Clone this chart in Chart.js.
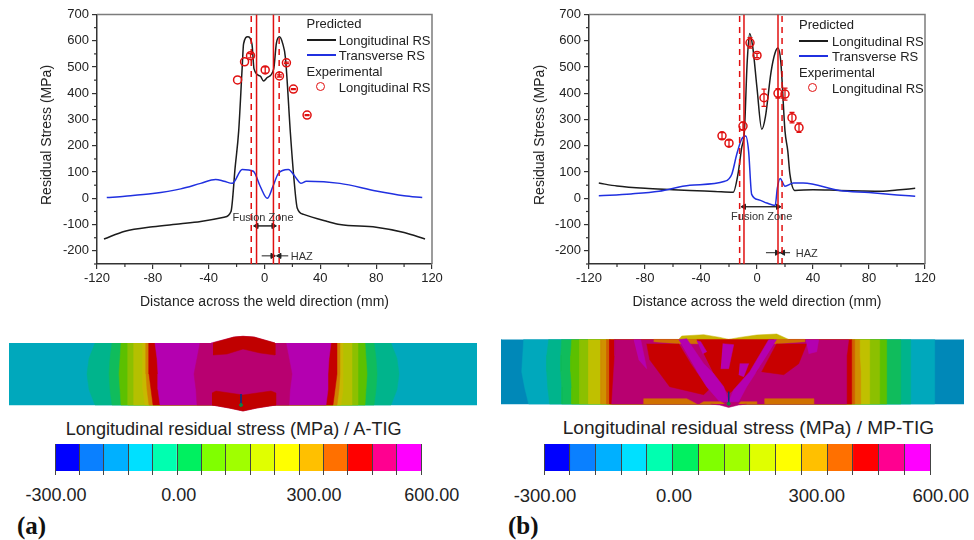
<!DOCTYPE html>
<html>
<head>
<meta charset="utf-8">
<script src="https://cdn.jsdelivr.net/npm/chart.js@4"></script>
<style>
  html, body { margin: 0; padding: 0; background: #fff; }
  #page { position: relative; width: 974px; height: 540px; overflow: hidden; font-family: "Liberation Sans", Arial, sans-serif; color: #222; }
  #page canvas { position: absolute; }
  .note { position: absolute; white-space: nowrap; line-height: 1; transform: translateY(-50%); }
  .mid { transform: translate(-50%, -50%); }
  .rot { transform: translate(-50%, -50%) rotate(-90deg); }
  .swatch { position: absolute; height: 2px; }
  .dot { position: absolute; width: 7px; height: 7px; border: 1.5px solid #e01010; border-radius: 50%; }
</style>
</head>
<body>
<div id="page">
  <canvas id="plotA" width="487" height="315" style="left:0;top:0"></canvas>
  <canvas id="plotB" width="487" height="315" style="left:487px;top:0"></canvas>
  <canvas id="sectionA" width="468" height="88" style="left:9px;top:330px"></canvas>
  <canvas id="sectionB" width="463" height="84" style="left:501px;top:330px"></canvas>
  <canvas id="scaleA" width="386" height="34" style="left:45px;top:442px"></canvas>
  <canvas id="scaleB" width="406" height="34" style="left:534px;top:442px"></canvas>
</div>
<script>
// (a) A-TIG
const aLongX = [-115, -100, -80, -60, -45.7, -29, -24, -21, -18.5, -16, -15, -12, -9, -7.5, -3, -0.7, 2, 6.6, 8.5, 10.7, 13, 15, 18.6, 21, 23.5, 28, 45, 54, 80, 100, 115];
const aLongY = [-155, -125, -108, -97, -88, -72, -50, 120, 256, 497, 588, 615, 588, 493, 465, 447, 460, 493, 590, 615, 590, 535, 245, 80, -38, -61, -88, -100, -110, -130, -155];
const aTransX = [-113, -100, -80, -60, -45.7, -35, -29, -23, -16, -8, -3, 2, 6, 10, 17, 23, 26, 30, 54, 80, 100, 113];
const aTransY = [3, 8, 18, 36, 57, 72, 65, 57, 110, 103, 45, 0, 45, 95, 110, 75, 57, 65, 57, 28, 10, 3];
const aExpX = [-19.3, -14.3, -10, 0.5, 10.7, 15.7, 20.7, 30.5];
const aExpY = [451, 520, 543, 489, 466, 516, 416, 317];
const aExpErr = [0, 0, 8, 12, 4, 3, 2, 2];
const aFusionLines = [-5.7, 6.4];
const aHazLines = [-9.5, 10.5];
const aFusionArrow = [-105, -5.7, 6.4];
const aHazArrow = [-219, -2, 5.7, 17, 10.7];

// (b) MP-TIG
const bLongX = [-113, -100, -80, -60, -48, -30, -17, -13.6, -11, -9, -7, -5.2, -3, 0, 3.4, 6, 10, 13, 15, 17, 20, 22, 23.5, 27, 40, 59, 75, 90, 100, 113];
const bLongY = [58, 47, 38, 33, 30, 26, 23, 92, 191, 256, 520, 628, 575, 420, 263, 310, 480, 555, 572, 520, 256, 180, 92, 30, 33, 30, 28, 27, 32, 38];
const bTransX = [-113, -90, -70, -48, -23, -18, -14.5, -11, -8, -6, -3.8, 1, 7, 13, 14.5, 16.5, 20, 26, 33, 59, 80, 100, 113];
const bTransY = [10, 17, 27, 50, 65, 92, 167, 225, 237, 180, 15, -5, -18, -27, 38, 76, 46, 58, 58, 30, 22, 13, 8];
const bExpX = [-25, -20, -10, -5, 0, 5, 15, 20, 25, 30];
const bExpY = [238, 210, 275, 592, 544, 383, 400, 397, 307, 269];
const bExpErr = [12, 12, 15, 20, 8, 33, 18, 23, 20, 18];
const bFusionLines = [-9.3, 15];
const bHazLines = [-12.4, 17.9];
const bFusionArrow = [-32, -9.3, 15];
const bHazArrow = [-207, 6.4, 14.3, 23.6, 18.6];

// axes
const xTicks = [-120, -80, -40, 0, 40, 80, 120];
const xMinor = [-100, -60, -20, 20, 60, 100];
const yTicks = [-200, -100, 0, 100, 200, 300, 400, 500, 600, 700];
const yMinor = [-250, -150, -50, 50, 150, 250, 350, 450, 550, 650];

// colour scale of the contour plots
const scaleLevels = [-300, -240, -180, -120, -60, 0, 60, 120, 180, 240, 300, 360, 420, 480, 540, 600];
const scaleColors = ['#0000ff', '#0a80ff', '#00b0ff', '#00e0ff', '#00ffb0', '#00f060', '#80ff00', '#a0ff00', '#e0ff00', '#ffff00', '#ffc000', '#ff7000', '#ff0000', '#ff0090', '#ff00ff'];
const scaleTickLabels = ['-300.00', '0.00', '300.00', '600.00'];

// contour bands of the sections: edge of each band at five heights through the plate
const aLevels = [31, 15.5, 0, -15.5, -31];
const aBandEdges = [
  [148, 154, 156, 154, 148],
  [131, 133, 134, 133, 131],
  [122, 123, 124, 123, 122],
  [115, 115, 115, 115, 115],
  [109, 109, 109, 109, 109],
  [100, 100, 100, 100, 98],
  [97, 97, 97, 96, 94],
  [94, 94, 94, 92, 90],
  [88, 86, 85, 85, 83],
  [43, 46, 49, 47, 46]
];
const aBandColors = ['#00b48c', '#10bc5c', '#5cc000', '#8cc000', '#b4c000', '#c8b800', '#d08000', '#c40000', '#b400b0', '#b80070'];
const aBumps = [
  [[-32, 31], [-9, 37], [0, 37.7], [11, 37], [32, 31]],
  [[-31, -31], [-14, -34], [0, -37], [14, -34], [33, -31]]
];
const aBlobs = [
  [[-30, 31], [-9, 37], [0, 37.7], [11, 37], [32, 31], [32, 19], [17, 21], [0, 25], [-16, 20], [-30, 19]],
  [[-31, -31], [-14, -34], [0, -37], [14, -34], [33, -31], [33, -19], [28, -17], [0, -21], [-27, -17], [-31, -19]]
];
const aGauge = [[-2, -20], [-2, -31]];

const bLevels = [32.3, 16, 0, -16, -32.3];
const bBandLeft = [
  [205, 206, 207, 204, 200],
  [180, 182, 182, 181, 179],
  [167, 168, 168, 167, 167],
  [157, 158, 158, 157, 157],
  [149, 149, 149, 149, 149],
  [140, 140, 140, 140, 140],
  [128, 128, 128, 128, 128],
  [122, 122, 122, 122, 122],
  [119, 119, 119, 119, 119],
  [114, 114, 115, 116, 117]
];
const bBandRight = [
  [206, 206, 206, 206, 206],
  [182, 182, 182, 182, 182],
  [172, 172, 172, 172, 172],
  [158, 158, 158, 158, 158],
  [151, 151, 151, 151, 151],
  [141, 141, 141, 141, 141],
  [131, 131, 132, 132, 132],
  [126, 126, 126, 126, 126],
  [123, 123, 123, 123, 123],
  [120, 118, 118, 118, 118]
];
const bBandColors = ['#00a8bc', '#00b48c', '#10bc5c', '#5cc000', '#8cc000', '#c0c000', '#d09000', '#d06000', '#c80000', '#b80070'];
const bShapes = [
  [[-50, 32.3], [-47, 35.7], [-25, 37], [-8.7, 34.3], [0, 32.3], [11, 34.3], [28, 36.7], [48, 37.7], [60, 32.3]],
  [[-75, 32.3], [76, 32.3], [76, 30], [48, 28], [0, 28], [-50, 28], [-75, 30]],
  [[-82, 28], [-79, 12], [-59, -15], [-25, -23], [-20, -18], [-38, 8], [-50, 28]],
  [[48, 28], [33, 0], [55, -3], [70, 8], [78, 28]],
  [[-32, 32], [45, 32], [28, 0], [0, -22], [-12, -8]],
  [[-50, 32], [-42, 33], [-25, 8], [-15, -2], [-5, -15], [0, -30], [-9, -30], [-22, -15], [-32, 1]],
  [[48, 32], [40, 32], [21, 0], [5, -18], [0, -30], [10, -30], [18, -15], [31, 5]],
  [[-32, 31], [-28, 30], [-22, 20], [-26, 18]],
  [[-6, 28], [5, 27], [0, 3], [-8, 3]],
  [[11, 8], [20, 8], [15, -5], [10, -3]],
  [[-95, 32], [-88, 32], [-82, 3], [-90, 12]],
  [[77, 32], [90, 32], [88, 20], [80, 18]],
  [[-85, -32.3], [-85, -27], [-42, -27], [-38, -29], [-32, -32.3]],
  [[36, -32.3], [36, -27], [85, -27], [85, -32.3]],
  [[-29, -32.3], [-25, -30], [-8, -30], [-4, -32.3]],
  [[10, -32.3], [12, -30], [28, -30], [28, -32.3]],
  [[-18, -32.3], [-9, -33.3], [0, -35.7], [10, -33.3], [18, -32.3]]
];
const bShapeColors = ['#c8b400', '#d07000', '#c80000', '#c80000', '#c80000', '#b400b0', '#b400b0', '#b400b0', '#b400b0', '#b400b0', '#b400b0', '#b400b0', '#d07000', '#d07000', '#d07000', '#d07000', '#b80070'];
const bGauge = [[0, -20], [0, -32]];

const RED = '#e01010';
const INK = '#333';

function toPoints(xs, ys) {
  return xs.map((x, i) => ({ x: x, y: ys[i] }));
}

function curve(xs, ys, color) {
  return { data: toPoints(xs, ys), showLine: true, borderColor: color, borderWidth: 1.5, pointRadius: 0, cubicInterpolationMode: 'monotone' };
}

function arrow(y, from, to) {
  return {
    data: [{ x: from, y: y }, { x: to, y: y }], showLine: true, borderColor: '#222', backgroundColor: '#222', borderWidth: 1,
    pointStyle: 'triangle', pointRadius: [0, 3], pointRotation: [0, to > from ? 90 : -90]
  };
}

function plotDatasets(d) {
  const sets = [];
  sets.push({ data: toPoints(d.expX, d.expY), pointStyle: 'circle', pointRadius: 4, pointBorderWidth: 1.5, pointBorderColor: RED, pointBackgroundColor: 'rgba(0,0,0,0)' });
  d.expErr.forEach((e, i) => {
    if (e > 0) {
      sets.push({
        data: [{ x: d.expX[i], y: d.expY[i] - e }, { x: d.expX[i], y: d.expY[i] + e }], showLine: true, borderColor: RED, borderWidth: 1.3,
        pointStyle: 'line', pointRadius: 2.5, pointBorderColor: RED, pointBorderWidth: 1.3
      });
    }
  });
  d.fusion.forEach(x => sets.push({ data: [{ x: x, y: -250 }, { x: x, y: 700 }], showLine: true, borderColor: RED, borderWidth: 1.5, pointRadius: 0 }));
  d.haz.forEach(x => sets.push({ data: [{ x: x, y: -250 }, { x: x, y: 700 }], showLine: true, borderColor: RED, borderWidth: 1.5, borderDash: [6, 5], pointRadius: 0 }));
  sets.push(arrow(d.fusionArrow[0], d.fusionArrow[1], d.fusionArrow[2]));
  sets.push(arrow(d.fusionArrow[0], d.fusionArrow[2], d.fusionArrow[1]));
  sets.push(arrow(d.hazArrow[0], d.hazArrow[1], d.hazArrow[2]));
  sets.push(arrow(d.hazArrow[0], d.hazArrow[3], d.hazArrow[4]));
  sets.push(curve(d.transX, d.transY, '#2030e0'));
  sets.push(curve(d.longX, d.longY, '#1c1c1c'));
  // minor ticks and the grey top/right frame
  sets.push({ data: xMinor.map(x => ({ x: x, y: -250 })), clip: false, pointStyle: 'dash', pointRadius: 3, pointRotation: 90, pointBorderColor: INK, pointBorderWidth: 1.2 });
  sets.push({ data: yMinor.map(y => ({ x: -120, y: y })), clip: false, pointStyle: 'dash', pointRadius: 3, pointRotation: 180, pointBorderColor: INK, pointBorderWidth: 1.2 });
  sets.push({ data: [{ x: -120, y: 700 }, { x: 120, y: 700 }, { x: 120, y: -250 }], clip: false, showLine: true, borderColor: '#7c7c7c', borderWidth: 1.5, pointRadius: 0 });
  return sets;
}

function makePlot(id, d, left, rightPad) {
  const axisFont = { family: '"Liberation Sans", Arial, sans-serif', size: 13 };
  new Chart(document.getElementById(id), {
    type: 'scatter',
    data: { datasets: plotDatasets(d) },
    options: {
      responsive: false,
      animation: false,
      layout: { autoPadding: false, padding: { top: 14.5, right: rightPad, left: 0, bottom: 0 } },
      plugins: { legend: { display: false }, tooltip: { enabled: false } },
      scales: {
        x: {
          type: 'linear', min: -120, max: 120,
          afterBuildTicks: s => { s.ticks = xTicks.map(v => ({ value: v })); },
          afterFit: s => { s.height = 315 - 264; s.paddingLeft = 0; s.paddingRight = 0; },
          border: { color: INK, width: 1.5 },
          grid: { drawOnChartArea: false, color: INK, tickLength: 5, lineWidth: 1.2 },
          ticks: { color: '#222', font: axisFont, padding: 2, maxRotation: 0, autoSkip: false },
          title: { display: true, text: 'Distance across the weld direction (mm)', color: '#222', font: { family: axisFont.family, size: 14 }, padding: { top: 4, bottom: 4 } }
        },
        y: {
          type: 'linear', min: -250, max: 700,
          afterBuildTicks: s => { s.ticks = yTicks.map(v => ({ value: v })); },
          afterFit: s => { s.width = left; s.paddingTop = 0; s.paddingBottom = 0; },
          border: { color: INK, width: 1.5 },
          grid: { drawOnChartArea: false, color: INK, tickLength: 5, lineWidth: 1.2 },
          ticks: { color: '#222', font: axisFont, padding: 3, autoSkip: false }
        }
      }
    }
  });
}

makePlot('plotA', { longX: aLongX, longY: aLongY, transX: aTransX, transY: aTransY, expX: aExpX, expY: aExpY, expErr: aExpErr, fusion: aFusionLines, haz: aHazLines, fusionArrow: aFusionArrow, hazArrow: aHazArrow }, 97, 55);
makePlot('plotB', { longX: bLongX, longY: bLongY, transX: bTransX, transY: bTransY, expX: bExpX, expY: bExpY, expErr: bExpErr, fusion: bFusionLines, haz: bHazLines, fusionArrow: bFusionArrow, hazArrow: bHazArrow }, 102, 49);

function polygon(points, color) {
  return { data: points, parsing: false, showLine: true, fill: 'shape', backgroundColor: color, borderColor: color, borderWidth: 0.5, pointRadius: 0, tension: 0 };
}

function bandPolygon(levels, left, right, color) {
  const pts = levels.map((y, i) => ({ x: -left[i], y: y }));
  for (let i = levels.length - 1; i >= 0; i--) pts.push({ x: right[i], y: levels[i] });
  return polygon(pts, color);
}

function shapePolygon(pairs, color) {
  return polygon(pairs.map(p => ({ x: p[0], y: p[1] })), color);
}

function gauge(pairs) {
  return {
    data: pairs.map(p => ({ x: p[0], y: p[1] })), parsing: false, showLine: true, borderColor: '#103080', borderWidth: 1,
    pointRadius: [0, 1.5], pointBackgroundColor: '#108040', pointBorderColor: '#108040'
  };
}

function makeSection(id, sets, xMin, xMax, yMin, yMax) {
  new Chart(document.getElementById(id), {
    type: 'scatter',
    // first dataset is painted last, so the list goes from the centre of the weld outwards
    data: { datasets: sets.slice().reverse() },
    options: {
      responsive: false,
      animation: false,
      layout: { autoPadding: false },
      plugins: { legend: { display: false }, tooltip: { enabled: false } },
      scales: {
        x: { type: 'linear', display: false, min: xMin, max: xMax },
        y: { type: 'linear', display: false, min: yMin, max: yMax }
      }
    }
  });
}

const aSets = [bandPolygon(aLevels, [234, 234, 234, 234, 234], [234, 234, 234, 234, 234], '#00a8bc')];
aBandEdges.forEach((edge, i) => aSets.push(bandPolygon(aLevels, edge, edge, aBandColors[i])));
aBumps.forEach(b => aSets.push(shapePolygon(b, '#b80070')));
aBlobs.forEach(b => aSets.push(shapePolygon(b, '#c00000')));
aSets.push(gauge(aGauge));
makeSection('sectionA', aSets, -234, 234, -44, 44);

const bSets = [bandPolygon(bLevels, [227.7, 227.7, 227.7, 227.7, 227.7], [235.3, 235.3, 235.3, 235.3, 235.3], '#0088b8')];
bBandLeft.forEach((edge, i) => bSets.push(bandPolygon(bLevels, edge, bBandRight[i], bBandColors[i])));
bShapes.forEach((s, i) => bSets.push(shapePolygon(s, bShapeColors[i])));
bSets.push(gauge(bGauge));
makeSection('sectionB', bSets, -227.7, 235.3, -42.3, 41.7);

function makeScale(id, sidePad) {
  new Chart(document.getElementById(id), {
    type: 'bar',
    data: {
      labels: ['MPa'],
      datasets: scaleColors.map((c, i) => ({ data: [[scaleLevels[i], scaleLevels[i + 1]]], backgroundColor: c, grouped: false, barPercentage: 1, categoryPercentage: 1 }))
    },
    options: {
      indexAxis: 'y',
      responsive: false,
      animation: false,
      layout: { padding: { left: sidePad, right: sidePad, top: 2, bottom: 0 } },
      plugins: { legend: { display: false }, tooltip: { enabled: false } },
      scales: {
        x: {
          type: 'linear', min: -300, max: 600,
          afterBuildTicks: s => { s.ticks = scaleLevels.map(v => ({ value: v })); },
          afterFit: s => { s.height = 5; s.paddingLeft = 0; s.paddingRight = 0; },
          border: { display: false },
          grid: { color: '#444', lineWidth: 1, tickLength: 4, z: 1 },
          ticks: { display: false }
        },
        y: { display: false }
      }
    }
  });
}
makeScale('scaleA', 10);
makeScale('scaleB', 10);

// text and legends on top of the canvases
const page = document.getElementById('page');
function note(text, x, y, size, cls, extra) {
  const el = document.createElement('div');
  el.className = 'note' + (cls ? ' ' + cls : '');
  el.textContent = text;
  el.style.left = x + 'px';
  el.style.top = y + 'px';
  el.style.fontSize = size + 'px';
  if (extra) el.style.cssText += extra;
  page.appendChild(el);
}
function swatch(x, y, w, color) {
  const el = document.createElement('div');
  el.className = 'swatch';
  el.style.cssText = 'left:' + x + 'px;top:' + (y - 1) + 'px;width:' + w + 'px;background:' + color;
  page.appendChild(el);
}
function legend(x, xText, rowsY) {
  note('Predicted', x, rowsY[0], 13);
  swatch(x, rowsY[1], 29, '#1c1c1c');
  note('Longitudinal RS', xText, rowsY[1], 13);
  swatch(x, rowsY[2], 29, '#2030e0');
  note('Transverse RS', xText, rowsY[2], 13);
  note('Experimental', x, rowsY[3], 13);
  const dot = document.createElement('div');
  dot.className = 'dot';
  dot.style.left = (x + 14 - 5) + 'px';
  dot.style.top = (rowsY[4] - 5) + 'px';
  page.appendChild(dot);
  note('Longitudinal RS', xText, rowsY[4], 13);
}
legend(306.5, 338.7, [23.3, 39.5, 55, 71, 87]);
legend(799, 832, [24.3, 40.7, 56, 72, 87.7]);

note('Residual Stress (MPa)', 46, 134.5, 14, 'rot');
note('Residual Stress (MPa)', 539, 134.5, 14, 'rot');

note('Fusion Zone', 263, 216.7, 11, 'mid', 'color:#333');
note('HAZ', 301.7, 255.7, 11, 'mid', 'color:#333');
note('Fusion Zone', 761.7, 216, 11, 'mid', 'color:#333');
note('HAZ', 806.7, 252.7, 11, 'mid', 'color:#333');

note('Longitudinal residual stress (MPa) / A-TIG', 65.7, 429, 18.1);
note('Longitudinal residual stress (MPa) / MP-TIG', 562.7, 427.7, 19.1);

[56, 178.7, 314, 431.7].forEach((x, i) => note(scaleTickLabels[i], x, 495, 18, 'mid'));
[545, 674, 816.7, 940.7].forEach((x, i) => note(scaleTickLabels[i], x, 495.7, 18.5, 'mid'));

note('(a)', 17, 525, 25, '', 'font-family:"Liberation Serif",serif;font-weight:bold;color:#111');
note('(b)', 508, 525, 25, '', 'font-family:"Liberation Serif",serif;font-weight:bold;color:#111');
</script>
</body>
</html>
